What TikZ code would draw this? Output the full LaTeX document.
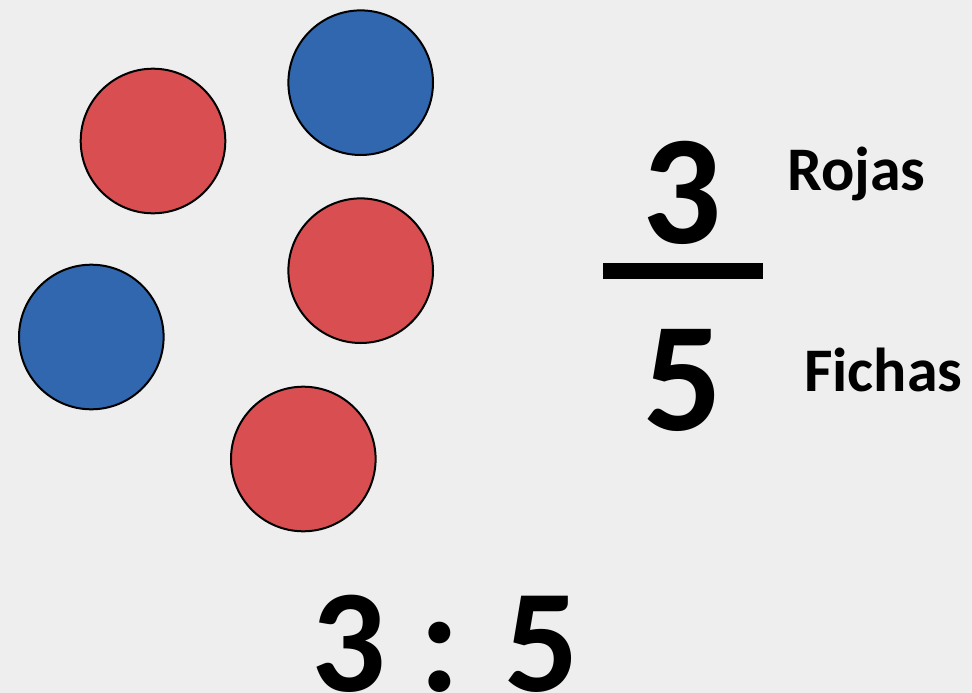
\documentclass[tikz,border=0pt]{standalone}
\usepackage{fontspec}
\setmainfont{Carlito}
\definecolor{bg}{HTML}{EEEEEE}
\definecolor{chipred}{HTML}{D94F51}
\definecolor{chipblue}{HTML}{3167AE}
\begin{document}
\begin{tikzpicture}[x=1pt,y=-1pt,
  chip/.style={circle,draw=black,line width=2pt,minimum size=144.6pt,inner sep=0pt},
  big/.style={font=\fontsize{156}{156}\selectfont\bfseries,inner sep=0pt,anchor=base},
  lbl/.style={font=\fontsize{62}{62}\selectfont\bfseries,inner sep=0pt,anchor=base west}]
\fill[bg] (0,0) rectangle (972,693);
\useasboundingbox (0,0) rectangle (972,693);
\node[chip,fill=chipred]  (r1) at (153,141) {};
\node[chip,fill=chipblue] (b1) at (360.7,82.7) {};
\node[chip,fill=chipred]  (r2) at (360.7,270.7) {};
\node[chip,fill=chipblue] (b2) at (91.3,337) {};
\node[chip,fill=chipred]  (r3) at (303.3,459) {};
\node[big] (num) at (682.5,243) {3};
\node[big] (den) at (683,430) {5};
\node[fill=black,minimum width=160pt,minimum height=16pt,inner sep=0pt] (bar) at (683,271) {};
\node[lbl] (rojas) at (787,190.7) {Rojas};
\node[lbl] (fichas) at (804,391.7) {Fichas};
\node[big,font=\fontsize{147}{147}\selectfont\bfseries] (ratio) at (445,691) {3 : 5};
\end{tikzpicture}
\end{document}
